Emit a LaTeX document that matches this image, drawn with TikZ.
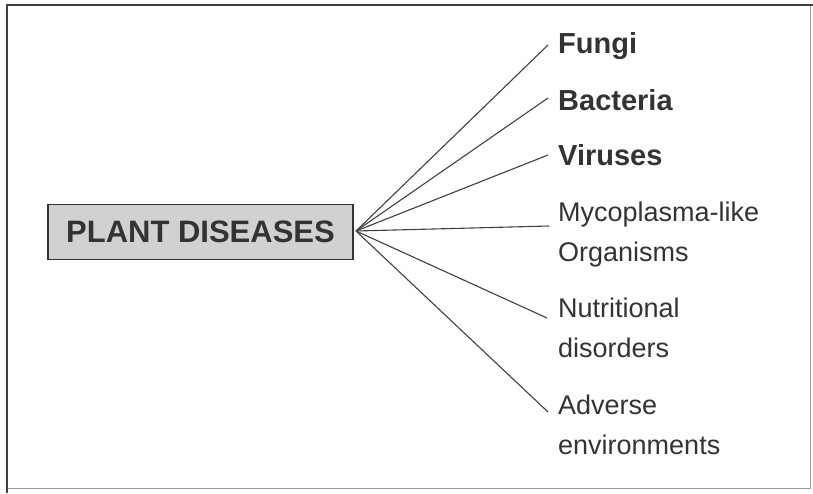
\documentclass[tikz,border=0pt]{standalone}
\usepackage{fontspec}
\setmainfont{Liberation Sans}
\begin{document}
\begin{tikzpicture}[x=1pt,y=-1pt,
  lbl/.style={anchor=base west,inner sep=0pt,text=black!80,font=\fontsize{27}{40}\selectfont,align=left},
  blbl/.style={lbl,font=\fontsize{29}{40}\selectfont\bfseries},
  spoke/.style={draw=black!75,line width=1.1pt}]
\useasboundingbox (0,0) rectangle (813,493);
% frame
\draw[black!40,line width=1pt] (810,5) -- (810,488) -- (7,488);
\draw[black!75,line width=2.6pt] (7,493) -- (7,5) -- (813,5);
% main box
\node[draw=black!80,line width=1.4pt,fill=black!18,minimum width=305pt,minimum height=55pt,inner sep=0pt,
      font=\fontsize{31}{36}\selectfont\bfseries,text=black!80] (pd) at (200.5,232) {PLANT DISEASES};
\coordinate (hub) at (356,231);
% labels
\node[blbl] (fungi) at (558,53) {Fungi};
\node[blbl] (bact) at (558,110) {Bacteria};
\node[blbl] (vir) at (558,165) {Viruses};
\node[lbl] (myco) at (558,261) {Mycoplasma-like\\Organisms};
\node[lbl] (nutr) at (558,357) {Nutritional\\disorders};
\node[lbl] (adv) at (558,454) {Adverse\\environments};
% end points
\coordinate (e1) at (548,45);
\coordinate (e2) at (548,98);
\coordinate (e3) at (548,155);
\coordinate (e4) at (549,226);
\coordinate (e5) at (547,318);
\coordinate (e6) at (548,412);
\foreach \e in {e1,e2,e3,e4,e5,e6}{\draw[spoke] (hub) -- (\e);}
\end{tikzpicture}
\end{document}
